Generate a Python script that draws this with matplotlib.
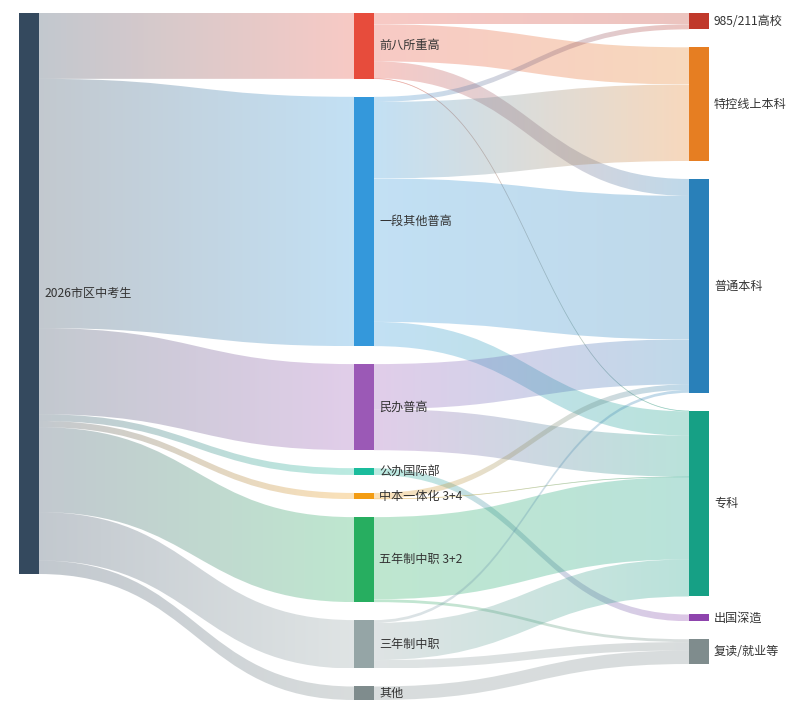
import numpy as np
import matplotlib
matplotlib.use("Agg")
import matplotlib.pyplot as plt
from matplotlib.path import Path
from matplotlib.patches import PathPatch, Rectangle
from matplotlib.colors import to_rgb
from matplotlib.collections import LineCollection

plt.rcParams['font.family'] = ['Noto Sans CJK SC', 'DejaVu Sans']

# columns of nodes (top to bottom) and their colours
col0 = ['2026市区中考生']
col1 = ['前八所重高', '一段其他普高', '民办普高', '公办国际部', '中本一体化 3+4',
        '五年制中职 3+2', '三年制中职', '其他']
col2 = ['985/211高校', '特控线上本科', '普通本科', '专科', '出国深造', '复读/就业等']

colors = {
    '2026市区中考生': '#34495e',
    '前八所重高': '#e74c3c', '一段其他普高': '#3498db', '民办普高': '#9b59b6',
    '公办国际部': '#1abc9c', '中本一体化 3+4': '#f39c12', '五年制中职 3+2': '#27ae60',
    '三年制中职': '#95a5a6', '其他': '#7f8c8d',
    '985/211高校': '#c0392b', '特控线上本科': '#e67e22', '普通本科': '#2980b9',
    '专科': '#16a085', '出国深造': '#8e44ad', '复读/就业等': '#7f8c8d',
}

# flows, in % of all students (estimated)
flow_src = ['前八所重高', '前八所重高', '前八所重高', '前八所重高',
            '一段其他普高', '一段其他普高', '一段其他普高', '一段其他普高',
            '民办普高', '民办普高',
            '公办国际部',
            '中本一体化 3+4', '中本一体化 3+4',
            '五年制中职 3+2', '五年制中职 3+2',
            '三年制中职', '三年制中职', '三年制中职',
            '其他']
flow_dst = ['985/211高校', '特控线上本科', '普通本科', '专科',
            '985/211高校', '特控线上本科', '普通本科', '专科',
            '普通本科', '专科',
            '出国深造',
            '普通本科', '专科',
            '专科', '复读/就业等',
            '普通本科', '专科', '复读/就业等',
            '复读/就业等']
flow_val = [2.0, 6.6, 3.0, 0.1,
            0.9, 13.6, 25.5, 4.3,
            8.0, 7.3,
            1.2,
            1.0, 0.1,
            14.6, 0.5,
            0.5, 6.6, 1.5,
            2.4]

# first stage: every student goes to one of the school types
links = []
for n in col1:
    v = sum(val for s, val in zip(flow_src, flow_val) if s == n)
    links.append(('2026市区中考生', n, v))
links += list(zip(flow_src, flow_dst, flow_val))

# ---- layout (pixel space) ----
W, H = 792, 715
left, right, top, bottom = 19, 709, 13, 700
node_w, gap, curveness = 20, 18, 0.5
columns = [col0, col1, col2]

value = {}
for c in columns:
    for n in c:
        vin = sum(v for s, t, v in links if t == n)
        vout = sum(v for s, t, v in links if s == n)
        value[n] = max(vin, vout)

ky = min((bottom - top - (len(c) - 1) * gap) / sum(value[n] for n in c) for c in columns)
node_x, node_y, node_h = {}, {}, {}
for d, c in enumerate(columns):
    x = left + d * (right - node_w - left) / (len(columns) - 1)
    y = top
    for n in c:
        node_x[n] = x
        node_y[n] = y
        node_h[n] = value[n] * ky
        y += node_h[n] + gap

# offsets of each link inside its source / target node
sy, ty = {}, {}
for n in node_x:
    out = sorted([l for l in links if l[0] == n], key=lambda l: node_y[l[1]])
    off = 0
    for l in out:
        sy[l] = off
        off += l[2] * ky
    inc = sorted([l for l in links if l[1] == n], key=lambda l: node_y[l[0]])
    off = 0
    for l in inc:
        ty[l] = off
        off += l[2] * ky

fig = plt.figure(figsize=(W / 100, H / 100), dpi=100)
ax = fig.add_axes([0, 0, 1, 1])
ax.set_xlim(0, W)
ax.set_ylim(H, 0)
ax.axis('off')

alpha = 0.3
for l in links:
    s, t, v = l
    dy = v * ky
    x1 = node_x[s] + node_w
    x2 = node_x[t]
    y1 = node_y[s] + sy[l]
    y2 = node_y[t] + ty[l]
    cx1 = x1 * (1 - curveness) + x2 * curveness
    cx2 = x1 * curveness + x2 * (1 - curveness)
    verts = [(x1, y1), (cx1, y1), (cx2, y2), (x2, y2),
             (x2, y2 + dy), (cx2, y2 + dy), (cx1, y1 + dy), (x1, y1 + dy), (x1, y1)]
    codes = [Path.MOVETO, Path.CURVE4, Path.CURVE4, Path.CURVE4,
             Path.LINETO, Path.CURVE4, Path.CURVE4, Path.CURVE4, Path.CLOSEPOLY]
    path = Path(verts, codes)
    c0 = np.array(to_rgb(colors[s]))
    c1 = np.array(to_rgb(colors[t]))
    f = np.linspace(0, 1, 256)[:, None]
    grad = np.zeros((1, 256, 4))
    grad[0, :, :3] = c0 * (1 - f) + c1 * f
    grad[0, :, 3] = alpha
    ymin, ymax = min(y1, y2), max(y1, y2) + dy
    patch = PathPatch(path, facecolor='none', edgecolor='none')
    ax.add_patch(patch)
    im = ax.imshow(grad, extent=(x1, x2, ymax, ymin), aspect='auto',
                   interpolation='bilinear', zorder=1)
    im.set_clip_path(patch)
    if dy < 1.5:
        # very thin flows: draw the centre line so they stay visible
        tt = np.linspace(0, 1, 80)
        bx = (1 - tt) ** 3 * x1 + 3 * (1 - tt) ** 2 * tt * cx1 + 3 * (1 - tt) * tt ** 2 * cx2 + tt ** 3 * x2
        by = (1 - tt) ** 3 * y1 + 3 * (1 - tt) ** 2 * tt * y1 + 3 * (1 - tt) * tt ** 2 * y2 + tt ** 3 * y2 + dy / 2
        pts = np.column_stack([bx, by]).reshape(-1, 1, 2)
        segs = np.concatenate([pts[:-1], pts[1:]], axis=1)
        fm = ((bx[:-1] - x1) / (x2 - x1))[:, None]
        cols = np.zeros((len(segs), 4))
        cols[:, :3] = c0 * (1 - fm) + c1 * fm
        cols[:, 3] = 0.3
        ax.add_collection(LineCollection(segs, colors=cols, linewidths=0.6, zorder=1))

for n in node_x:
    ax.add_patch(Rectangle((node_x[n], node_y[n]), node_w, node_h[n],
                           facecolor=colors[n], edgecolor='none', zorder=2))
    ax.text(node_x[n] + node_w + 5, node_y[n] + node_h[n] / 2, n,
            fontsize=8.7, color='#333333', va='center', ha='left', zorder=3)

ax.set_xlim(0, W)
ax.set_ylim(H, 0)
fig.savefig('out.png', dpi=100, facecolor='white')
